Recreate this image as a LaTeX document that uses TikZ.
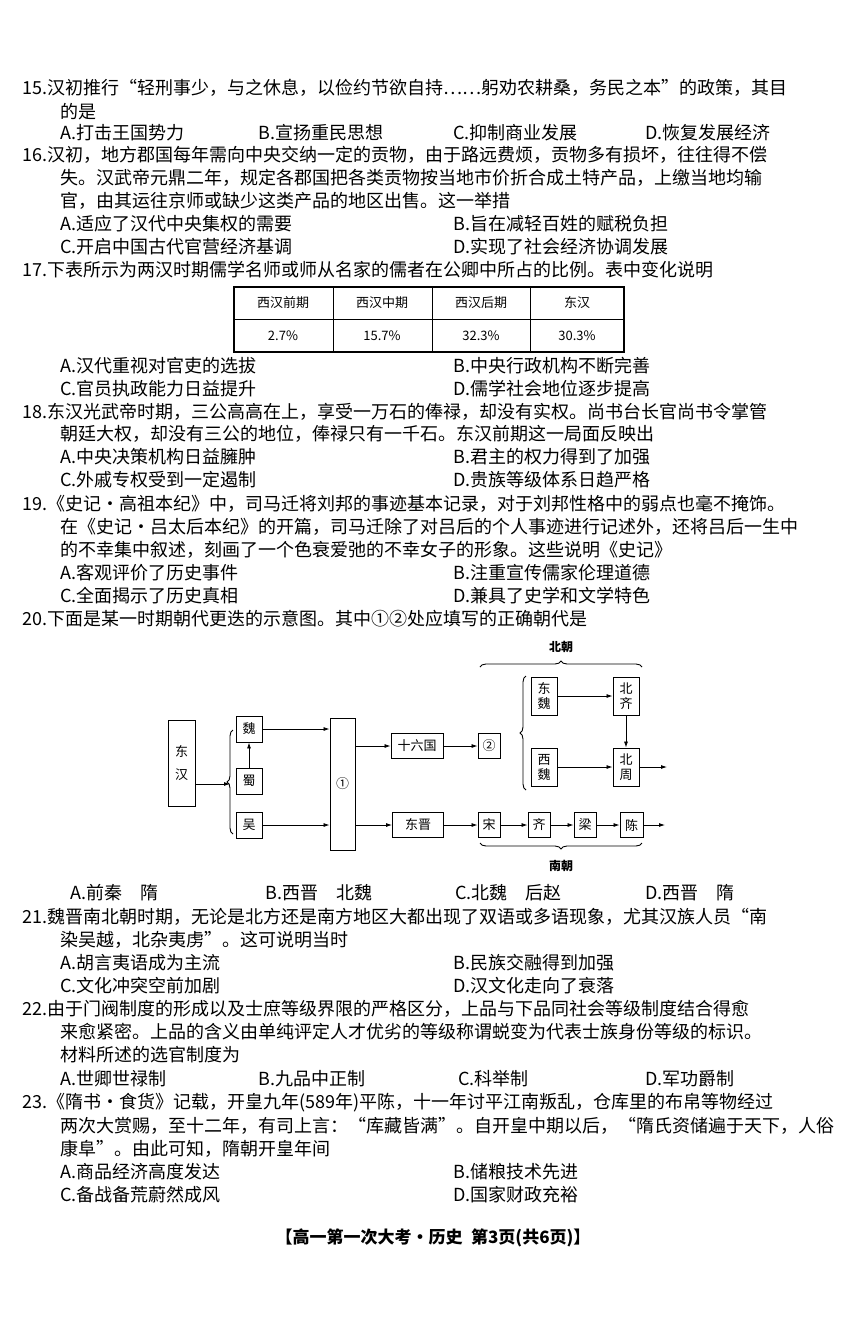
\documentclass[tikz,border=0pt]{standalone}
\usepackage{fontspec}
\setmainfont{Noto Sans CJK SC}
\usetikzlibrary{decorations.pathreplacing,arrows.meta}
\begin{document}
\begin{tikzpicture}[x=1pt,y=-1pt,
  L/.style={anchor=west,inner sep=0pt,font=\fontsize{18}{20}\selectfont},
  bx/.style={draw,line width=0.9pt,inner sep=0pt,font=\fontsize{13}{15}\selectfont,align=center},
  ar/.style={-{Latex[length=6pt,width=4pt]},line width=0.8pt},
  br/.style={decorate,decoration={brace,amplitude=6pt},line width=0.9pt},
  tc/.style={font=\fontsize{13}{15}\selectfont,inner sep=0pt}]
\useasboundingbox (0,0) rectangle (867,1318);
\fill[white] (0,0) rectangle (867,1318);
% Q15
\node[L] (a1) at (22,88) {15.汉初推行“轻刑事少，与之休息，以俭约节欲自持……躬劝农耕桑，务民之本”的政策，其目};
\node[L] (a2) at (60,112) {的是};
\node[L] (a3) at (60,133) {A.打击王国势力};
\node[L] (a4) at (258,133) {B.宣扬重民思想};
\node[L] (a5) at (453,133) {C.抑制商业发展};
\node[L] (a6) at (645,133) {D.恢复发展经济};
% Q16
\node[L] (b1) at (22,155) {16.汉初，地方郡国每年需向中央交纳一定的贡物，由于路远费烦，贡物多有损坏，往往得不偿};
\node[L] (b2) at (60,178) {失。汉武帝元鼎二年，规定各郡国把各类贡物按当地市价折合成土特产品，上缴当地均输};
\node[L] (b3) at (60,201) {官，由其运往京师或缺少这类产品的地区出售。这一举措};
\node[L] (b4) at (60,224) {A.适应了汉代中央集权的需要};
\node[L] (b5) at (453,224) {B.旨在减轻百姓的赋税负担};
\node[L] (b6) at (60,247) {C.开启中国古代官营经济基调};
\node[L] (b7) at (453,247) {D.实现了社会经济协调发展};
% Q17
\node[L] (c1) at (22,270) {17.下表所示为两汉时期儒学名师或师从名家的儒者在公卿中所占的比例。表中变化说明};
\draw[line width=1.3pt] (234,287) rectangle (624,352);
\draw[line width=0.8pt] (234,319) -- (624,319) (333,287) -- (333,352) (432,287) -- (432,352) (530,287) -- (530,352);
\node[tc] (t1) at (283,303) {西汉前期};
\node[tc] (t2) at (382,303) {西汉中期};
\node[tc] (t3) at (481,303) {西汉后期};
\node[tc] (t4) at (577,303) {东汉};
\node[tc] (t5) at (283,336) {2.7\%};
\node[tc] (t6) at (382,336) {15.7\%};
\node[tc] (t7) at (481,336) {32.3\%};
\node[tc] (t8) at (577,336) {30.3\%};
\node[L] (c2) at (60,366) {A.汉代重视对官吏的选拔};
\node[L] (c3) at (453,366) {B.中央行政机构不断完善};
\node[L] (c4) at (60,389) {C.官员执政能力日益提升};
\node[L] (c5) at (453,389) {D.儒学社会地位逐步提高};
% Q18
\node[L] (d1) at (22,412) {18.东汉光武帝时期，三公高高在上，享受一万石的俸禄，却没有实权。尚书台长官尚书令掌管};
\node[L] (d2) at (60,434) {朝廷大权，却没有三公的地位，俸禄只有一千石。东汉前期这一局面反映出};
\node[L] (d3) at (60,457) {A.中央决策机构日益臃肿};
\node[L] (d4) at (453,457) {B.君主的权力得到了加强};
\node[L] (d5) at (60,480) {C.外戚专权受到一定遏制};
\node[L] (d6) at (453,480) {D.贵族等级体系日趋严格};
% Q19
\node[L] (e1) at (22,504) {19.《史记·高祖本纪》中，司马迁将刘邦的事迹基本记录，对于刘邦性格中的弱点也毫不掩饰。};
\node[L] (e2) at (60,527) {在《史记·吕太后本纪》的开篇，司马迁除了对吕后的个人事迹进行记述外，还将吕后一生中};
\node[L] (e3) at (60,550) {的不幸集中叙述，刻画了一个色衰爱弛的不幸女子的形象。这些说明《史记》};
\node[L] (e4) at (60,573) {A.客观评价了历史事件};
\node[L] (e5) at (453,573) {B.注重宣传儒家伦理道德};
\node[L] (e6) at (60,596) {C.全面揭示了历史真相};
\node[L] (e7) at (453,596) {D.兼具了史学和文学特色};
% Q20
\node[L] (f1) at (22,619) {20.下面是某一时期朝代更迭的示意图。其中①②处应填写的正确朝代是};
% diagram
\node[bx,minimum width=27pt,minimum height=86pt] (dh) at (181.5,763) {东\\[8pt]汉};
\node[bx,minimum width=26pt,minimum height=26pt] (wei) at (249,729) {魏};
\node[bx,minimum width=26pt,minimum height=26pt] (shu) at (249,781) {蜀};
\node[bx,minimum width=26pt,minimum height=26pt] (wu) at (249,825) {吴};
\node[bx,minimum width=25pt,minimum height=132pt] (c1n) at (342.5,784) {①};
\node[bx,minimum width=52pt,minimum height=25pt] (slg) at (417,746) {十六国};
\node[bx,minimum width=22pt,minimum height=25pt] (c2n) at (489,746) {②};
\node[bx,minimum width=26pt,minimum height=38pt] (dw) at (544,696) {东\\魏};
\node[bx,minimum width=26pt,minimum height=38pt] (bq) at (626,696) {北\\齐};
\node[bx,minimum width=26pt,minimum height=38pt] (xw) at (544,767) {西\\魏};
\node[bx,minimum width=26pt,minimum height=38pt] (bz) at (626,767) {北\\周};
\node[bx,minimum width=51pt,minimum height=25pt] (dj) at (418,825) {东晋};
\node[bx,minimum width=22pt,minimum height=25pt] (song) at (489,825) {宋};
\node[bx,minimum width=22pt,minimum height=25pt] (qi) at (539,825) {齐};
\node[bx,minimum width=22pt,minimum height=25pt] (liang) at (585,825) {梁};
\node[bx,minimum width=23pt,minimum height=25pt] (chen) at (631.5,825) {陈};
\coordinate (brL) at (230,784);
\coordinate (e1c) at (667,767);
\coordinate (e2c) at (665,825);
\draw[br] (233,834) -- (233,730);
\draw[ar] (dh.east |- brL) -- (brL);
\draw[ar] (shu) -- (wei);
\draw[ar] (wei.east) -- (c1n.west |- wei.east);
\draw[ar] (wu.east) -- (c1n.west |- wu.east);
\draw[ar] (c1n.east |- slg) -- (slg);
\draw[ar] (c1n.east |- dj) -- (dj);
\draw[ar] (slg) -- (c2n);
\draw[ar] (dj) -- (song);
\draw[ar] (song) -- (qi);
\draw[ar] (qi) -- (liang);
\draw[ar] (liang) -- (chen);
\draw[ar] (chen) -- (e2c);
\draw[ar] (dw) -- (bq);
\draw[ar] (xw) -- (bz);
\draw[ar] (bq) -- (bz);
\draw[ar] (bz) -- (e1c);
\draw[br] (526,790) -- (526,676);
\draw[br] (480,667) -- (642,667);
\draw[br] (642,843) -- (480,843);
\node[tc,font=\fontsize{12}{14}\selectfont\bfseries] (bc) at (561,647) {北朝};
\node[tc,font=\fontsize{12}{14}\selectfont\bfseries] (nc) at (561,866) {南朝};
\node[L] (f2) at (70,893) {A.前秦\quad 隋};
\node[L] (f3) at (265,893) {B.西晋\quad 北魏};
\node[L] (f4) at (455,893) {C.北魏\quad 后赵};
\node[L] (f5) at (645,893) {D.西晋\quad 隋};
% Q21
\node[L] (g1) at (22,917) {21.魏晋南北朝时期，无论是北方还是南方地区大都出现了双语或多语现象，尤其汉族人员“南};
\node[L] (g2) at (60,940) {染吴越，北杂夷虏”。这可说明当时};
\node[L] (g3) at (60,963) {A.胡言夷语成为主流};
\node[L] (g4) at (453,963) {B.民族交融得到加强};
\node[L] (g5) at (60,986) {C.文化冲突空前加剧};
\node[L] (g6) at (453,986) {D.汉文化走向了衰落};
% Q22
\node[L] (h1) at (22,1009) {22.由于门阀制度的形成以及士庶等级界限的严格区分，上品与下品同社会等级制度结合得愈};
\node[L] (h2) at (60,1032) {来愈紧密。上品的含义由单纯评定人才优劣的等级称谓蜕变为代表士族身份等级的标识。};
\node[L] (h3) at (60,1055) {材料所述的选官制度为};
\node[L] (h4) at (60,1079) {A.世卿世禄制};
\node[L] (h5) at (258,1079) {B.九品中正制};
\node[L] (h6) at (458,1079) {C.科举制};
\node[L] (h7) at (645,1079) {D.军功爵制};
% Q23
\node[L] (i1) at (22,1103) {23.《隋书·食货》记载，开皇九年(589年)平陈，十一年讨平江南叛乱，仓库里的布帛等物经过};
\node[L] (i2) at (60,1126) {两次大赏赐，至十二年，有司上言：“库藏皆满”。自开皇中期以后，“隋氏资储遍于天下，人俗};
\node[L] (i3) at (60,1149) {康阜”。由此可知，隋朝开皇年间};
\node[L] (i4) at (60,1172) {A.商品经济高度发达};
\node[L] (i5) at (453,1172) {B.储粮技术先进};
\node[L] (i6) at (60,1195) {C.备战备荒蔚然成风};
\node[L] (i7) at (453,1195) {D.国家财政充裕};
\node[inner sep=0pt,font=\fontsize{17}{19}\selectfont\bfseries] (ft) at (433,1238) {【高一第一次大考·历史\enspace 第3页(共6页)】};
\end{tikzpicture}
\end{document}
